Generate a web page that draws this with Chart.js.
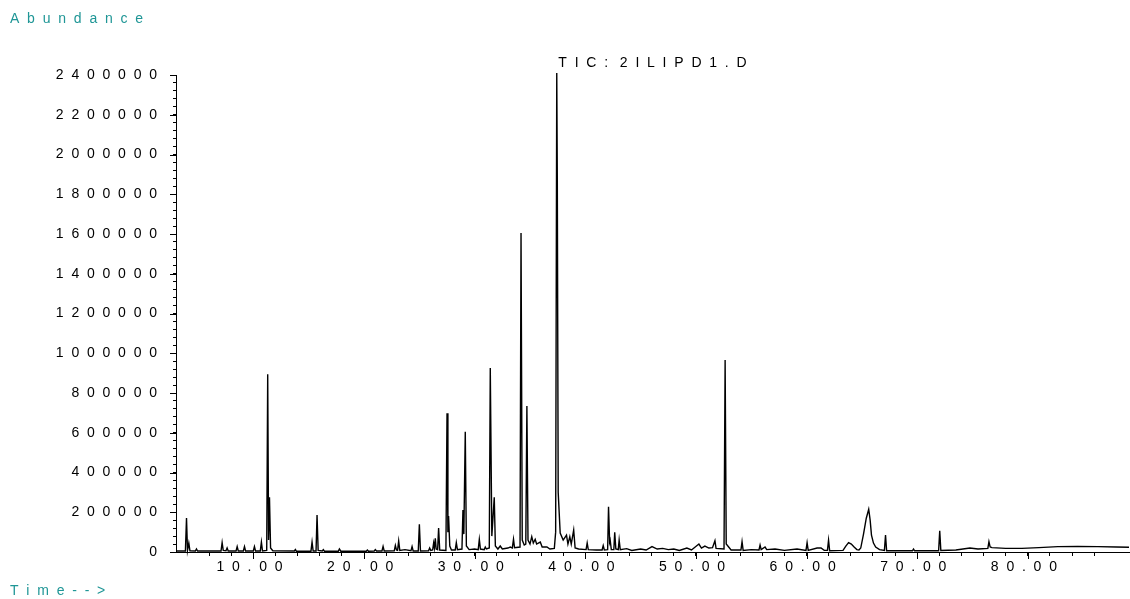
<!DOCTYPE html>
<html>
<head>
<meta charset="utf-8">
<script src="https://cdn.jsdelivr.net/npm/chart.js@4.4.1/dist/chart.umd.min.js"></script>
<style>
  html, body { margin: 0; padding: 0; background: #fff; }
  #wrap { width: 1130px; height: 599px; }
</style>
</head>
<body>
<div id="wrap"><canvas id="tic"></canvas></div>
<script>
// labels
const fileLabel = "TIC: 2ILIPD1.D";
const yTitle = "Abundance";
const xTitle = "Time-->";

// axis ticks
const xMajorTicks = [10, 20, 30, 40, 50, 60, 70, 80];
const yMajorTicks = [0, 200000, 400000, 600000, 800000, 1000000, 1200000,
  1400000, 1600000, 1800000, 2000000, 2200000, 2400000];

// retention time (min)
const times = [
  3.00, 3.85, 3.95, 4.04, 4.16, 4.26, 4.75, 4.85, 4.95, 7.07, 7.17, 7.27, 7.52, 7.62, 7.72,
  8.43, 8.53, 8.63, 9.09, 9.19, 9.29, 9.99, 10.09, 10.19, 10.62, 10.72, 10.82,
  11.20, 11.29, 11.37, 11.45, 11.55, 11.75, 13.70, 13.79, 13.88, 15.20, 15.30, 15.40,
  15.66, 15.75, 15.85, 16.22, 16.32, 16.42, 17.67, 17.77, 17.90, 20.20, 20.30, 20.40,
  20.92, 21.02, 21.12, 21.62, 21.72, 21.82, 22.73, 22.83, 22.93, 23.03, 23.13, 23.23,
  23.70, 24.24, 24.34, 24.44, 24.90, 25.00, 25.10, 25.83, 25.93, 26.03, 26.20, 26.29,
  26.36, 26.44, 26.52, 26.65, 26.74, 26.84, 27.40, 27.50, 27.58, 27.64, 27.75, 27.90,
  28.24, 28.34, 28.44, 28.85, 28.94, 29.02, 29.15, 29.25, 29.50, 30.00, 30.32, 30.42,
  30.52, 30.86, 30.96, 31.06, 31.32, 31.41, 31.55, 31.77, 31.87, 32.10, 32.31, 32.50,
  33.00, 33.22, 33.40, 33.51, 33.60, 34.10, 34.19, 34.30, 34.48, 34.62, 34.72, 34.82,
  35.00, 35.16, 35.30, 35.47, 35.60, 35.93, 36.10, 36.53, 36.80, 37.20, 37.32, 37.42,
  37.47, 37.55, 37.73, 38.00, 38.30, 38.43, 38.60, 38.73, 38.95, 39.08, 39.40, 40.07,
  40.17, 40.27, 41.00, 41.52, 41.62, 41.72, 42.02, 42.10, 42.20, 42.25, 42.35, 42.58,
  42.66, 42.76, 42.98, 43.06, 43.16, 43.74, 44.20, 45.00, 45.50, 46.03, 46.50, 47.00,
  47.50, 48.00, 48.50, 49.18, 49.60, 50.27, 50.50, 50.81, 51.17, 51.50, 51.72, 51.82,
  52.54, 52.64, 52.74, 53.18, 54.07, 54.17, 54.27, 55.00, 55.70, 55.80, 55.90, 56.25,
  56.40, 57.15, 58.00, 59.14, 59.95, 60.05, 60.15, 60.95, 61.31, 61.60, 61.89, 61.99,
  62.09, 63.30, 63.55, 63.80, 64.05, 64.30, 64.55, 64.74, 64.90, 65.15, 65.40, 65.62,
  65.75, 65.87, 66.05, 66.25, 66.60, 67.04, 67.14, 67.24, 69.57, 69.67, 69.77, 71.94,
  72.04, 72.14, 73.50, 74.77, 75.50, 76.39, 76.49, 76.60, 76.76, 78.00, 79.47, 81.00,
  82.72, 84.50, 86.33, 88.00, 89.15
];

// abundance at each time
const abundance = [
  5000, 5000, 171000, 8000, 45000, 6000, 5000, 15000, 5000, 5000, 47000, 8000, 6000, 20000, 5000,
  5000, 27000, 5000, 5000, 27000, 5000, 5000, 27000, 5000, 5000, 50000, 5000,
  8000, 894000, 60000, 275000, 20000, 6000, 5000, 12000, 4000, 4000, 50000, 5000,
  5000, 186000, 8000, 5000, 12000, 4000, 4000, 15000, 4000, 4000, 10000, 4000,
  5000, 12000, 5000, 5000, 28000, 5000, 6000, 33000, 10000, 8000, 55000, 8000,
  12000, 6000, 27000, 5000, 5000, 139000, 5000, 6000, 20000, 8000, 10000, 45000,
  20000, 69000, 15000, 12000, 120000, 10000, 8000, 698000, 100000, 181000, 30000, 10000,
  10000, 47000, 12000, 15000, 211000, 90000, 605000, 30000, 12000, 15000, 12000, 64000,
  15000, 12000, 25000, 15000, 20000, 926000, 80000, 275000, 30000, 15000, 30000, 15000,
  20000, 25000, 20000, 64000, 22000, 25000, 1605000, 60000, 35000, 40000, 734000, 60000,
  40000, 77000, 45000, 64000, 40000, 50000, 25000, 25000, 15000, 18000, 100000, 2410000,
  1870000, 300000, 95000, 60000, 85000, 40000, 77000, 40000, 110000, 20000, 15000, 12000,
  45000, 12000, 10000, 10000, 32000, 10000, 12000, 228000, 50000, 60000, 12000, 12000,
  99000, 15000, 12000, 60000, 12000, 17000, 8000, 15000, 10000, 27000, 15000, 18000,
  12000, 15000, 8000, 20000, 10000, 40000, 20000, 30000, 20000, 22000, 57000, 18000,
  15000, 966000, 40000, 10000, 10000, 52000, 8000, 12000, 10000, 35000, 12000, 25000,
  12000, 15000, 8000, 15000, 8000, 47000, 8000, 20000, 20000, 8000, 8000, 60000,
  6000, 8000, 30000, 47000, 40000, 25000, 12000, 10000, 20000, 90000, 170000, 215000,
  160000, 85000, 45000, 25000, 12000, 8000, 85000, 6000, 6000, 15000, 6000, 6000,
  107000, 8000, 10000, 20000, 15000, 18000, 52000, 25000, 22000, 18000, 18000, 22000,
  27000, 28000, 27000, 25000, 24000
];

// wide letter spacing like the instrument printout
const spaced = s => s.split("").join("  ").replace(/ {5}/g, "   ");
const teal = "#1f9696";

Chart.defaults.font.family = "'Liberation Sans', Arial, sans-serif";
Chart.defaults.font.size = 14;
Chart.defaults.color = "#000";

// longer marks on labelled ticks, plus the text around the plot
const decorations = {
  id: "decorations",
  afterDraw(chart) {
    const { ctx, chartArea, scales } = chart;
    ctx.save();
    ctx.strokeStyle = "#000";
    ctx.lineWidth = 1;
    ctx.beginPath();
    yMajorTicks.forEach(v => {
      const py = Math.round(scales.y.getPixelForValue(v)) + 0.5;
      ctx.moveTo(chartArea.left - 6, py);
      ctx.lineTo(chartArea.left, py);
    });
    xMajorTicks.forEach(v => {
      const px = Math.round(scales.x.getPixelForValue(v)) + 0.5;
      ctx.moveTo(px, chartArea.bottom);
      ctx.lineTo(px, chartArea.bottom + 7);
    });
    ctx.stroke();

    ctx.font = "14px 'Liberation Sans', Arial, sans-serif";
    ctx.textBaseline = "middle";
    ctx.fillStyle = teal;
    ctx.textAlign = "left";
    ctx.fillText(spaced(yTitle), 10, 19);
    ctx.fillText(spaced(xTitle), 10, 591);
    ctx.fillStyle = "#000";
    ctx.textAlign = "center";
    ctx.fillText(spaced(fileLabel), (chartArea.left + chartArea.right) / 2, 63);
    ctx.restore();
  }
};

new Chart(document.getElementById("tic"), {
  type: "line",
  data: {
    datasets: [{
      data: times.map((t, i) => ({ x: t, y: abundance[i] })),
      borderColor: "#000",
      borderWidth: 1.4,
      pointRadius: 0,
      tension: 0,
      clip: false
    }]
  },
  options: {
    responsive: true,
    maintainAspectRatio: false,
    animation: false,
    layout: { padding: { top: 75, left: 0, right: 1, bottom: 0 } },
    plugins: { legend: { display: false }, tooltip: { enabled: false } },
    scales: {
      x: {
        type: "linear",
        min: 3,
        max: 89.15,
        afterBuildTicks: s => { s.ticks = s.ticks.filter(t => t.value % 2 === 0); },
        afterFit: s => { s.height = 47; },
        border: { display: true, color: "#000", width: 1 },
        grid: { drawOnChartArea: false, tickLength: 4, tickColor: "#000" },
        ticks: {
          stepSize: 2,
          autoSkip: false,
          maxRotation: 0,
          padding: 3,
          callback: v => xMajorTicks.includes(v) ? spaced(v.toFixed(2)) + "  " : ""
        }
      },
      y: {
        min: 0,
        max: 2400000,
        afterFit: s => { s.width = 176; },
        border: { display: true, color: "#000", width: 1 },
        grid: { drawOnChartArea: false, tickLength: 3, tickColor: "#000" },
        ticks: {
          stepSize: 40000,
          autoSkip: false,
          padding: 16,
          callback: v => yMajorTicks.includes(v) ? spaced(String(v)) : ""
        }
      }
    }
  },
  plugins: [decorations]
});
</script>
</body>
</html>
